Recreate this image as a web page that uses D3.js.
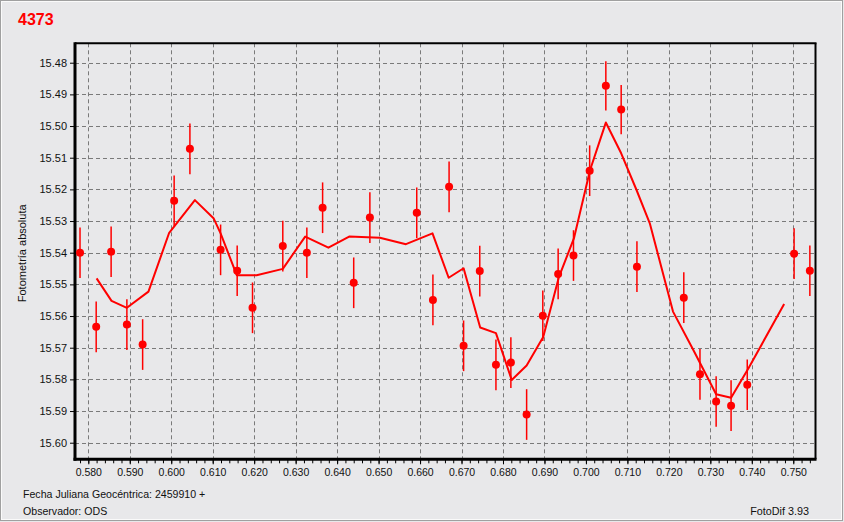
<!DOCTYPE html>
<html>
<head>
<meta charset="utf-8">
<script src="https://cdn.jsdelivr.net/npm/d3@7"></script>
<style>
  html, body { margin: 0; padding: 0; background: #e8e8ea; }
  svg { display: block; }
  text { font-family: "Liberation Sans", Arial, sans-serif; }
</style>
</head>
<body>
<script>
// ---- data ----
const title = "4373";
const ptX = [0.5780, 0.5819, 0.5855, 0.5893, 0.5931, 0.6007, 0.6045, 0.6119, 0.6159, 0.6196,
             0.6269, 0.6327, 0.6365, 0.6440, 0.6479, 0.6592, 0.6631, 0.6670, 0.6705, 0.6744,
             0.6783, 0.6819, 0.6857, 0.6896, 0.6933, 0.6970, 0.7009, 0.7048, 0.7085, 0.7123,
             0.7236, 0.7275, 0.7314, 0.7350, 0.7389, 0.7502, 0.7540];
const ptY = [15.5400, 15.5634, 15.5397, 15.5627, 15.5690, 15.5236, 15.5072, 15.5391, 15.5457, 15.5574,
             15.5379, 15.5400, 15.5258, 15.5495, 15.5289, 15.5274, 15.5549, 15.5192, 15.5694, 15.5458,
             15.5754, 15.5747, 15.5911, 15.5599, 15.5467, 15.5409, 15.5141, 15.4873, 15.4948, 15.5444,
             15.5542, 15.5784, 15.5870, 15.5883, 15.5817, 15.5403, 15.5457];
const ptErr = [0.0080, 0.0080, 0.0080, 0.0080, 0.0080, 0.0080, 0.0080, 0.0080, 0.0080, 0.0080,
               0.0080, 0.0080, 0.0080, 0.0080, 0.0080, 0.0080, 0.0080, 0.0080, 0.0080, 0.0080,
               0.0080, 0.0080, 0.0080, 0.0080, 0.0080, 0.0080, 0.0080, 0.0078, 0.0078, 0.0080,
               0.0080, 0.0080, 0.0080, 0.0080, 0.0080, 0.0080, 0.0080];
const lineX = [0.5820, 0.5856, 0.5893, 0.5945, 0.5995, 0.6057, 0.6102, 0.6119, 0.6158, 0.6206,
               0.6269, 0.6323, 0.6379, 0.6429, 0.6503, 0.6566, 0.6630, 0.6669, 0.6705, 0.6745,
               0.6783, 0.6821, 0.6857, 0.6897, 0.6935, 0.6971, 0.7010, 0.7048, 0.7085, 0.7122,
               0.7154, 0.7210, 0.7259, 0.7314, 0.7350, 0.7392, 0.7478];
const lineY = [15.5481, 15.5552, 15.5574, 15.5523, 15.5337, 15.5234, 15.5291, 15.5339, 15.5471, 15.5471,
               15.5451, 15.5349, 15.5384, 15.5349, 15.5353, 15.5373, 15.5339, 15.5479, 15.5449, 15.5636,
               15.5654, 15.5802, 15.5756, 15.5666, 15.5476, 15.5355, 15.5139, 15.4989, 15.5086, 15.5202,
               15.5307, 15.5586, 15.5707, 15.5847, 15.5858, 15.5765, 15.5562];
const xTicks = [0.580, 0.590, 0.600, 0.610, 0.620, 0.630, 0.640, 0.650, 0.660, 0.670,
                0.680, 0.690, 0.700, 0.710, 0.720, 0.730, 0.740, 0.750];
const yTicks = [15.48, 15.49, 15.50, 15.51, 15.52, 15.53, 15.54, 15.55, 15.56, 15.57, 15.58, 15.59, 15.60];
const xDomain = [0.57679, 0.75536];
const yDomain = [15.47387, 15.60524];
const yLabel = "Fotometría absoluta";
const footer1 = "Fecha Juliana Geocéntrica: 2459910 +";
const footer2 = "Observador: ODS";
const footer3 = "FotoDif 3.93";

// ---- layout ----
const W = 844, H = 522;
const L = 75, R = 815.5, T = 43.3, B = 459.3;
const red = "#ff0000";

const svg = d3.select("body").append("svg").attr("width", W).attr("height", H);
svg.append("rect").attr("x", 0).attr("y", 0).attr("width", W).attr("height", H).attr("fill", "#e8e8ea");
svg.append("rect").attr("x", 0.5).attr("y", 0.5).attr("width", W - 2).attr("height", H - 2)
  .attr("fill", "none").attr("stroke", "#a0a0a0").attr("stroke-width", 1);
svg.append("rect").attr("x", 1.5).attr("y", 1.5).attr("width", W - 4).attr("height", H - 4)
  .attr("fill", "none").attr("stroke", "#fafafa").attr("stroke-width", 1);

const x = d3.scaleLinear().domain(xDomain).range([L, R]);
const y = d3.scaleLinear().domain(yDomain).range([T, B]);

// gridlines
const grid = svg.append("g");
grid.selectAll("line.v").data(xTicks).join("line")
  .attr("x1", d => Math.round(x(d)) + 0.5).attr("x2", d => Math.round(x(d)) + 0.5)
  .attr("y1", T).attr("y2", B)
  .attr("stroke", "#7a7a7a").attr("stroke-width", 1).attr("stroke-dasharray", "4,3");
grid.selectAll("line.h").data(yTicks).join("line")
  .attr("y1", d => Math.round(y(d)) + 0.5).attr("y2", d => Math.round(y(d)) + 0.5)
  .attr("x1", L).attr("x2", R)
  .attr("stroke", "#7a7a7a").attr("stroke-width", 1).attr("stroke-dasharray", "4,3");

// axes
const xAxis = d3.axisBottom(x).tickValues(xTicks).tickFormat(d3.format(".3f")).tickSize(5).tickPadding(4);
const gx = svg.append("g").attr("transform", `translate(0,${B})`).call(xAxis);
gx.select(".domain").remove();
gx.selectAll("text").attr("font-size", "10.5px").attr("fill", "#111").attr("font-family", "'Liberation Sans', Arial, sans-serif");
gx.selectAll("line").attr("stroke", "#000");
const minor = d3.range(0.578, 0.7555, 0.002).filter(v => v >= xDomain[0] && v <= xDomain[1]);
svg.append("g").attr("transform", `translate(0,${B})`)
  .call(d3.axisBottom(x).tickValues(minor).tickSize(4).tickFormat(""))
  .call(g => g.select(".domain").remove())
  .selectAll("line").attr("stroke", "#000");

const yAxis = d3.axisLeft(y).tickValues(yTicks).tickFormat(d3.format(".2f")).tickSize(5).tickPadding(3);
const gy = svg.append("g").attr("transform", `translate(${L},0)`).call(yAxis);
gy.select(".domain").remove();
gy.selectAll("text").attr("font-size", "11px").attr("fill", "#111").attr("font-family", "'Liberation Sans', Arial, sans-serif");
gy.selectAll("line").attr("stroke", "#000");

// frame
svg.append("line").attr("x1", L).attr("x2", R + 1).attr("y1", T).attr("y2", T).attr("stroke", "#000").attr("stroke-width", 2);
svg.append("line").attr("x1", R).attr("x2", R).attr("y1", T).attr("y2", B).attr("stroke", "#000").attr("stroke-width", 2);
svg.append("line").attr("x1", L).attr("x2", L).attr("y1", T - 1).attr("y2", B + 1.5).attr("stroke", "#000").attr("stroke-width", 3);
svg.append("line").attr("x1", L - 1.5).attr("x2", R + 1).attr("y1", B).attr("y2", B).attr("stroke", "#000").attr("stroke-width", 3);

// fitted line
const lineData = lineX.map((v, i) => [v, lineY[i]]);
svg.append("path").datum(lineData)
  .attr("d", d3.line().x(d => x(d[0])).y(d => y(d[1])))
  .attr("fill", "none").attr("stroke", red).attr("stroke-width", 2).attr("stroke-linejoin", "round");

// error bars + points
const pts = ptX.map((v, i) => ({ x: v, y: ptY[i], e: ptErr[i] }));
svg.append("g").selectAll("line").data(pts).join("line")
  .attr("x1", d => x(d.x)).attr("x2", d => x(d.x))
  .attr("y1", d => y(d.y - d.e)).attr("y2", d => y(d.y + d.e))
  .attr("stroke", red).attr("stroke-width", 1.5);
svg.append("g").selectAll("circle").data(pts).join("circle")
  .attr("cx", d => x(d.x)).attr("cy", d => y(d.y)).attr("r", 4)
  .attr("fill", red);

// texts
svg.append("text").attr("x", 18).attr("y", 25).text(title)
  .attr("fill", red).attr("font-weight", "bold").attr("font-size", "16px");
svg.append("text").attr("transform", `translate(26,${(T + B) / 2 + 2}) rotate(-90)`)
  .attr("text-anchor", "middle").attr("font-size", "11px").attr("fill", "#111").text(yLabel);
svg.append("text").attr("x", 23).attr("y", 498).attr("font-size", "10.6px").attr("fill", "#111").text(footer1);
svg.append("text").attr("x", 23).attr("y", 515).attr("font-size", "10.6px").attr("fill", "#111").text(footer2);
svg.append("text").attr("x", 809).attr("y", 515).attr("text-anchor", "end").attr("font-size", "10.8px").attr("fill", "#111").text(footer3);
</script>
</body>
</html>
